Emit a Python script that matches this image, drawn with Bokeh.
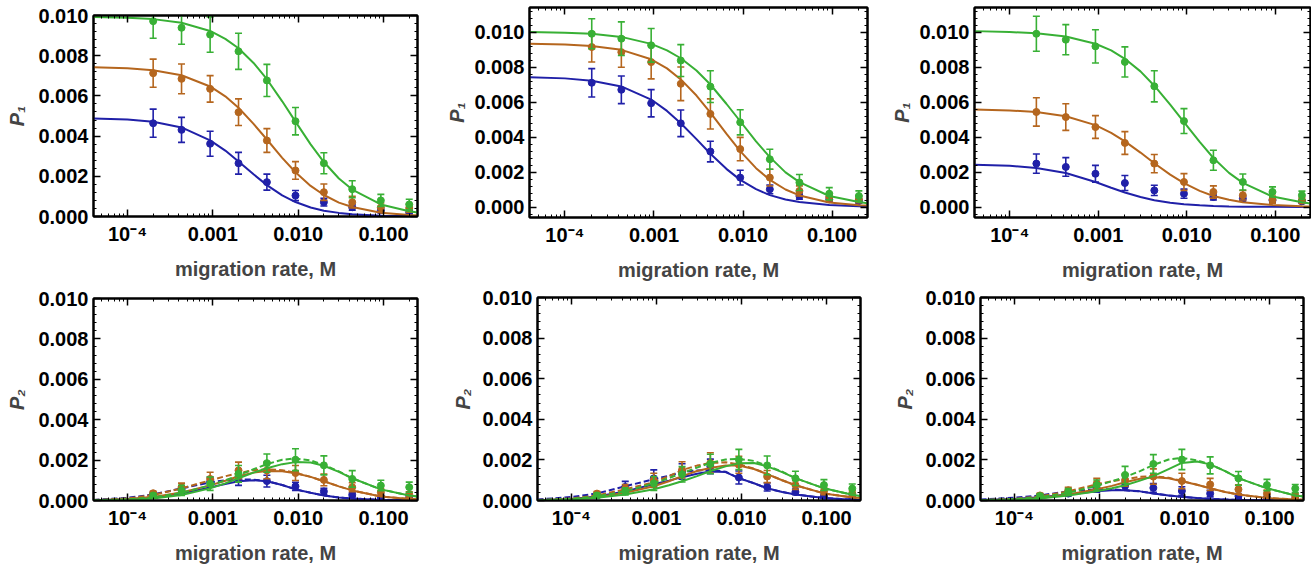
from bokeh.plotting import figure
from bokeh.models import (FixedTicker, LogAxis, LinearAxis, Range1d,
                          NumeralTickFormatter, CustomJSTickFormatter)
from bokeh.layouts import column, row
from bokeh.embed import file_html
from bokeh.resources import INLINE

# ---------------- data (probabilities in units of 1e-3) ----------------
SCALE = 1e-3
M_POINTS = [0.0002, 0.00043, 0.00093, 0.002, 0.0043, 0.0093, 0.02, 0.043, 0.093, 0.2]
M_CURVE = [4e-5, 1e-4, 2e-4, 4.3e-4, 9.3e-4, 1.4e-3, 2e-3, 3e-3, 4.3e-3, 6.5e-3,
           9.3e-3, 0.014, 0.02, 0.03, 0.043, 0.093, 0.2, 0.25]

X_TICKS = [1e-4, 1e-3, 1e-2, 1e-1]
X_TICK_LABELS = ["10\u207b\u2074", "0.001", "0.010", "0.100"]
Y_TICKS = [0.0, 0.002, 0.004, 0.006, 0.008, 0.010]
X_LABEL = "migration rate, M"
Y_LABEL_TOP = "P\u2081"
Y_LABEL_BOTTOM = "P\u2082"

# panel 1 (top left)
p1_green = [9.72, 9.39, 9.05, 8.22, 6.77, 4.74, 2.65, 1.36, 0.80, 0.60]
p1_green_err = [0.85, 0.82, 0.88, 0.90, 0.80, 0.68, 0.52, 0.42, 0.30, 0.26]
p1_green_fit = [9.93, 9.89, 9.82, 9.64, 9.23, 8.84, 8.37, 7.64, 6.83, 5.73, 4.72, 3.59, 2.71, 1.89, 1.34, 0.60, 0.26, 0.20]
p1_brown = [7.13, 6.85, 6.35, 5.19, 3.78, 2.29, 1.21, 0.71, 0.45, 0.42]
p1_brown_err = [0.70, 0.74, 0.66, 0.66, 0.59, 0.44, 0.41, 0.29, 0.22, 0.20]
p1_brown_fit = [7.42, 7.37, 7.28, 7.03, 6.47, 5.98, 5.41, 4.61, 3.83, 2.92, 2.20, 1.52, 1.07, 0.69, 0.47, 0.19, 0.08, 0.06]
p1_blue = [4.64, 4.31, 3.62, 2.65, 1.71, 1.04, 0.71, 0.46, 0.30, 0.20]
p1_blue_err = [0.70, 0.62, 0.62, 0.54, 0.40, 0.25, 0.19, 0.15, 0.12, 0.10]
p1_blue_fit = [4.88, 4.82, 4.71, 4.43, 3.79, 3.28, 2.74, 2.10, 1.56, 1.05, 0.72, 0.45, 0.29, 0.18, 0.11, 0.04, 0.02, 0.015]

# panel 2 (top middle)
p2_green = [9.90, 9.62, 9.24, 8.37, 6.88, 4.84, 2.73, 1.40, 0.76, 0.63]
p2_green_err = [0.86, 0.96, 0.96, 0.91, 0.91, 0.72, 0.57, 0.46, 0.35, 0.29]
p2_green_fit = [10.0, 9.96, 9.90, 9.72, 9.32, 8.95, 8.50, 7.80, 7.00, 5.90, 4.90, 3.75, 2.85, 1.98, 1.42, 0.63, 0.28, 0.21]
p2_brown = [9.14, 8.85, 8.28, 7.04, 5.32, 3.31, 1.68, 0.92, 0.57, 0.44]
p2_brown_err = [0.85, 0.86, 0.96, 0.96, 0.86, 0.67, 0.48, 0.29, 0.22, 0.20]
p2_brown_fit = [9.33, 9.29, 9.20, 8.98, 8.44, 7.92, 7.29, 6.37, 5.39, 4.19, 3.19, 2.22, 1.55, 1.00, 0.66, 0.26, 0.10, 0.08]
p2_blue = [7.10, 6.70, 5.93, 4.78, 3.17, 1.68, 1.01, 0.63, 0.44, 0.34]
p2_blue_err = [0.81, 0.79, 0.78, 0.76, 0.59, 0.42, 0.25, 0.18, 0.15, 0.12]
p2_blue_fit = [7.42, 7.35, 7.22, 6.89, 6.14, 5.49, 4.79, 3.88, 3.04, 2.18, 1.55, 1.02, 0.68, 0.43, 0.28, 0.11, 0.04, 0.03]

# panel 3 (top right)
p3_green = [9.90, 9.56, 9.18, 8.29, 6.90, 4.91, 2.67, 1.43, 0.86, 0.67]
p3_green_err = [1.00, 0.86, 0.95, 0.86, 0.89, 0.71, 0.57, 0.46, 0.29, 0.24]
p3_green_fit = [10.05, 10.0, 9.93, 9.74, 9.33, 8.95, 8.47, 7.75, 6.93, 5.85, 4.85, 3.72, 2.80, 1.95, 1.38, 0.60, 0.27, 0.20]
p3_brown = [5.43, 5.14, 4.57, 3.66, 2.48, 1.43, 0.86, 0.67, 0.42, 0.38]
p3_brown_err = [0.81, 0.76, 0.65, 0.65, 0.52, 0.48, 0.35, 0.27, 0.20, 0.18]
p3_brown_fit = [5.57, 5.52, 5.43, 5.19, 4.68, 4.24, 3.75, 3.11, 2.50, 1.85, 1.36, 0.92, 0.63, 0.41, 0.27, 0.11, 0.045, 0.035]
p3_blue = [2.48, 2.29, 1.90, 1.37, 0.95, 0.76, 0.57, 0.48, 0.38, 0.32]
p3_blue_err = [0.55, 0.53, 0.48, 0.43, 0.29, 0.26, 0.17, 0.14, 0.12, 0.10]
p3_blue_fit = [2.42, 2.36, 2.23, 1.94, 1.43, 1.10, 0.83, 0.57, 0.39, 0.245, 0.16, 0.096, 0.06, 0.035, 0.02, 0.01, 0.005, 0.004]

# panel 4 (bottom left)
p4_green = [0.25, 0.50, 0.83, 1.32, 1.85, 2.02, 1.74, 1.07, 0.74, 0.66]
p4_green_err = [0.10, 0.25, 0.33, 0.41, 0.45, 0.54, 0.47, 0.41, 0.26, 0.25]
p4_green_fit = [0.01, 0.04, 0.10, 0.27, 0.60, 0.85, 1.10, 1.38, 1.60, 1.80, 1.90, 1.88, 1.72, 1.42, 1.10, 0.55, 0.25, 0.20]
p4_green_alt = [0.02, 0.06, 0.15, 0.38, 0.75, 1.00, 1.25, 1.55, 1.80, 2.02, 2.08, 1.98, 1.76, 1.44, 1.10, 0.55, 0.25, 0.20]
p4_brown = [0.36, 0.66, 1.07, 1.49, 1.49, 1.36, 1.02, 0.66, 0.41, 0.30]
p4_brown_err = [0.10, 0.20, 0.33, 0.41, 0.41, 0.37, 0.29, 0.22, 0.17, 0.13]
p4_brown_fit = [0.01, 0.06, 0.18, 0.40, 0.75, 0.98, 1.20, 1.38, 1.46, 1.45, 1.35, 1.17, 0.95, 0.70, 0.50, 0.20, 0.08, 0.06]
p4_brown_alt = [0.02, 0.10, 0.27, 0.60, 1.00, 1.20, 1.35, 1.50, 1.55, 1.50, 1.37, 1.17, 0.95, 0.70, 0.50, 0.20, 0.08, 0.06]
p4_blue = [0.30, 0.53, 0.91, 1.05, 0.96, 0.70, 0.45, 0.28, 0.17, 0.13]
p4_blue_err = [0.10, 0.18, 0.25, 0.30, 0.29, 0.20, 0.15, 0.10, 0.08, 0.07]
p4_blue_fit = [0.01, 0.06, 0.15, 0.35, 0.65, 0.82, 0.95, 1.00, 0.95, 0.77, 0.55, 0.38, 0.25, 0.15, 0.10, 0.03, 0.01, 0.01]
p4_blue_alt = [0.03, 0.13, 0.30, 0.60, 0.90, 1.00, 1.05, 1.03, 0.96, 0.77, 0.55, 0.38, 0.25, 0.15, 0.10, 0.03, 0.01, 0.01]

# panel 5 (bottom middle)
p5_green = [0.25, 0.45, 0.84, 1.29, 1.80, 2.02, 1.73, 1.09, 0.76, 0.59]
p5_green_err = [0.10, 0.18, 0.34, 0.38, 0.48, 0.50, 0.46, 0.35, 0.27, 0.22]
p5_green_fit = [0.01, 0.05, 0.13, 0.30, 0.55, 0.75, 0.95, 1.20, 1.45, 1.68, 1.83, 1.85, 1.68, 1.40, 1.10, 0.60, 0.28, 0.22]
p5_green_alt = [0.02, 0.08, 0.20, 0.45, 0.85, 1.10, 1.35, 1.62, 1.85, 2.02, 2.05, 1.95, 1.72, 1.42, 1.10, 0.60, 0.28, 0.22]
p5_brown = [0.34, 0.59, 1.00, 1.51, 1.85, 1.76, 1.18, 0.76, 0.45, 0.34]
p5_brown_err = [0.10, 0.20, 0.34, 0.40, 0.50, 0.42, 0.30, 0.22, 0.17, 0.14]
p5_brown_fit = [0.01, 0.06, 0.16, 0.38, 0.70, 0.95, 1.20, 1.45, 1.60, 1.73, 1.72, 1.55, 1.30, 1.00, 0.75, 0.35, 0.15, 0.12]
p5_brown_alt = [0.02, 0.10, 0.25, 0.55, 0.90, 1.20, 1.50, 1.72, 1.85, 1.88, 1.78, 1.57, 1.30, 1.00, 0.75, 0.35, 0.15, 0.12]
p5_blue = [0.25, 0.67, 1.09, 1.43, 1.68, 1.13, 0.67, 0.42, 0.22, 0.17]
p5_blue_err = [0.10, 0.27, 0.42, 0.38, 0.36, 0.32, 0.20, 0.14, 0.10, 0.08]
p5_blue_fit = [0.01, 0.08, 0.20, 0.45, 0.80, 0.98, 1.15, 1.32, 1.43, 1.40, 1.10, 0.85, 0.60, 0.42, 0.30, 0.12, 0.04, 0.03]
p5_blue_alt = [0.05, 0.17, 0.35, 0.70, 1.05, 1.22, 1.40, 1.48, 1.50, 1.42, 1.10, 0.85, 0.60, 0.42, 0.30, 0.12, 0.04, 0.03]

# panel 6 (bottom right)
p6_green = [0.22, 0.42, 0.76, 1.26, 1.80, 2.02, 1.73, 1.09, 0.76, 0.59]
p6_green_err = [0.10, 0.17, 0.25, 0.42, 0.46, 0.50, 0.42, 0.34, 0.28, 0.20]
p6_green_fit = [0.01, 0.04, 0.10, 0.25, 0.45, 0.60, 0.75, 0.98, 1.20, 1.55, 1.85, 1.92, 1.78, 1.45, 1.10, 0.60, 0.25, 0.20]
p6_green_alt = [0.02, 0.07, 0.16, 0.38, 0.72, 0.95, 1.15, 1.45, 1.75, 2.02, 2.10, 1.98, 1.78, 1.45, 1.10, 0.60, 0.25, 0.20]
p6_brown = [0.25, 0.50, 0.84, 1.00, 1.18, 0.96, 0.79, 0.55, 0.34, 0.22]
p6_brown_err = [0.10, 0.15, 0.25, 0.30, 0.38, 0.38, 0.30, 0.22, 0.17, 0.13]
p6_brown_fit = [0.01, 0.05, 0.12, 0.30, 0.55, 0.72, 0.90, 1.07, 1.15, 1.10, 0.95, 0.78, 0.60, 0.42, 0.30, 0.12, 0.05, 0.04]
p6_brown_alt = [0.02, 0.08, 0.20, 0.45, 0.80, 0.95, 1.05, 1.17, 1.20, 1.12, 0.96, 0.78, 0.60, 0.42, 0.30, 0.12, 0.05, 0.04]
p6_blue = [0.22, 0.34, 0.59, 0.72, 0.62, 0.47, 0.34, 0.22, 0.12, 0.08]
p6_blue_err = [0.08, 0.12, 0.18, 0.20, 0.22, 0.21, 0.16, 0.12, 0.09, 0.07]
p6_blue_fit = [0.02, 0.08, 0.16, 0.30, 0.45, 0.50, 0.50, 0.45, 0.35, 0.25, 0.18, 0.12, 0.08, 0.05, 0.03, 0.01, 0.005, 0.004]
p6_blue_alt = [0.05, 0.14, 0.25, 0.45, 0.55, 0.55, 0.50, 0.45, 0.35, 0.25, 0.18, 0.12, 0.08, 0.05, 0.03, 0.01, 0.005, 0.004]

# ---------------- styling ----------------
BLUE = "#2020a8"
BROWN = "#b5661e"
GREEN = "#38b035"
FONT = "Liberation Sans"
FS = "20px"

X_MINOR = [m * 10.0 ** e for e in range(-5, 0) for m in range(1, 10)]
Y_MINOR = [i * 0.0004 for i in range(-3, 31)]


def style_axis(ax, labels=True):
    ax.axis_line_color = "black"
    ax.axis_line_width = 2
    ax.major_tick_in = 7
    ax.major_tick_out = 0
    ax.minor_tick_in = 3
    ax.minor_tick_out = 0
    ax.major_tick_line_color = "black"
    ax.major_tick_line_width = 1.5
    ax.minor_tick_line_color = "black"
    ax.minor_tick_line_width = 1
    ax.major_label_text_font = FONT
    ax.major_label_text_font_style = "bold"
    ax.major_label_text_color = "black"
    if labels:
        ax.major_label_text_font_size = FS
        ax.major_label_standoff = 5
    else:
        ax.major_label_text_font_size = "0px"
        ax.major_label_standoff = 0
        ax.formatter = CustomJSTickFormatter(code="return ''")


def make_panel(series, ylabel, yr, size, borders, ylab_standoff):
    left, right, top, bottom = borders
    w, h = size
    p = figure(x_axis_type="log", x_range=Range1d(4e-5, 0.25),
               y_range=Range1d(*yr), width=w, height=h,
               min_border_left=left, min_border_right=right,
               min_border_top=top, min_border_bottom=bottom,
               toolbar_location=None, output_backend="svg")
    p.title.visible = False
    p.grid.visible = False
    p.outline_line_color = "black"
    p.outline_line_width = 2
    p.background_fill_color = "white"
    p.border_fill_color = "white"

    xt = FixedTicker(ticks=X_TICKS, minor_ticks=X_MINOR)
    yt = FixedTicker(ticks=Y_TICKS, minor_ticks=Y_MINOR)

    xa = p.xaxis[0]
    xa.ticker = xt
    xa.major_label_overrides = {t: s for t, s in zip(X_TICKS, X_TICK_LABELS)}
    style_axis(xa)
    xa.major_label_standoff = 6
    xa.axis_label = X_LABEL
    xa.axis_label_text_font = FONT
    xa.axis_label_text_font_style = "bold"
    xa.axis_label_text_font_size = FS
    xa.axis_label_standoff = 10

    ya = p.yaxis[0]
    ya.ticker = yt
    ya.formatter = NumeralTickFormatter(format="0.000")
    style_axis(ya)
    ya.axis_label = ylabel
    ya.axis_label_text_font = FONT
    ya.axis_label_text_font_style = "bold italic"
    ya.axis_label_text_font_size = FS
    ya.axis_label_standoff = ylab_standoff

    top_ax = LogAxis(ticker=xt)
    style_axis(top_ax, labels=False)
    p.add_layout(top_ax, "above")
    right_ax = LinearAxis(ticker=yt)
    style_axis(right_ax, labels=False)
    p.add_layout(right_ax, "right")

    for color, pts, err, fit, alt in series:
        y = [v * SCALE for v in pts]
        lo = [(v - e) * SCALE for v, e in zip(pts, err)]
        hi = [(v + e) * SCALE for v, e in zip(pts, err)]
        p.segment(x0=M_POINTS, y0=lo, x1=M_POINTS, y1=hi, line_color=color, line_width=1.6)
        p.scatter(M_POINTS, lo, marker="dash", size=7, line_color=color, line_width=1.6)
        p.scatter(M_POINTS, hi, marker="dash", size=7, line_color=color, line_width=1.6)
        if alt is not None:
            p.line(M_CURVE, [v * SCALE for v in alt], line_color=color, line_width=2,
                   line_dash="6 3")
        p.line(M_CURVE, [v * SCALE for v in fit], line_color=color, line_width=2)
        p.scatter(M_POINTS, y, size=7, marker="circle", fill_color=color, line_color=color)
    return p


S1 = [(BLUE, p1_blue, p1_blue_err, p1_blue_fit, None),
      (BROWN, p1_brown, p1_brown_err, p1_brown_fit, None),
      (GREEN, p1_green, p1_green_err, p1_green_fit, None)]
S2 = [(BLUE, p2_blue, p2_blue_err, p2_blue_fit, None),
      (BROWN, p2_brown, p2_brown_err, p2_brown_fit, None),
      (GREEN, p2_green, p2_green_err, p2_green_fit, None)]
S3 = [(BLUE, p3_blue, p3_blue_err, p3_blue_fit, None),
      (BROWN, p3_brown, p3_brown_err, p3_brown_fit, None),
      (GREEN, p3_green, p3_green_err, p3_green_fit, None)]
S4 = [(BLUE, p4_blue, p4_blue_err, p4_blue_fit, p4_blue_alt),
      (BROWN, p4_brown, p4_brown_err, p4_brown_fit, p4_brown_alt),
      (GREEN, p4_green, p4_green_err, p4_green_fit, p4_green_alt)]
S5 = [(BLUE, p5_blue, p5_blue_err, p5_blue_fit, p5_blue_alt),
      (BROWN, p5_brown, p5_brown_err, p5_brown_fit, p5_brown_alt),
      (GREEN, p5_green, p5_green_err, p5_green_fit, p5_green_alt)]
S6 = [(BLUE, p6_blue, p6_blue_err, p6_blue_fit, p6_blue_alt),
      (BROWN, p6_brown, p6_brown_err, p6_brown_fit, p6_brown_alt),
      (GREEN, p6_green, p6_green_err, p6_green_fit, p6_green_alt)]

# size (w, h); borders: left, right, top, bottom (page origin is the window corner)
f1 = make_panel(S1, Y_LABEL_TOP, (0.0, 0.010), (440, 284), (93, 23, 15, 68), 7)
f2 = make_panel(S2, Y_LABEL_TOP, (-0.0006, 0.0114), (440, 284), (89, 13, 7, 67), 3)
f3 = make_panel(S3, Y_LABEL_TOP, (-0.0006, 0.0114), (431, 284), (94, 1, 7, 67), 3)
f4 = make_panel(S4, Y_LABEL_BOTTOM, (0.0, 0.010), (440, 288), (93, 23, 14, 72), 7)
f5 = make_panel(S5, Y_LABEL_BOTTOM, (0.0, 0.010), (440, 288), (97, 20, 13, 72), 5)
f6 = make_panel(S6, Y_LABEL_BOTTOM, (0.0, 0.010), (431, 288), (100, 8, 13, 72), 6)

top_row = row(column(f1), column(f2), column(f3))
bottom_row = row(column(f4), column(f5), column(f6))
layout = column(top_row, bottom_row)
open("out.html", "w").write(file_html(layout, INLINE))
